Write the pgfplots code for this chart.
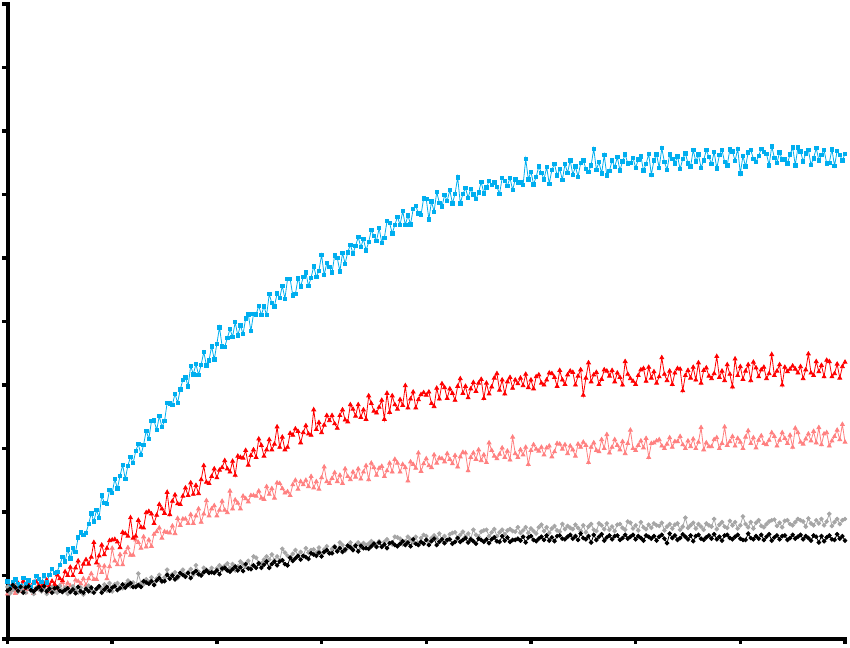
\documentclass[border=0pt]{standalone}
\usepackage{pgfplots}
\usepackage{pgfplotstable}
\pgfplotsset{compat=1.18}

\definecolor{cblue}{RGB}{0,174,239}
\definecolor{cred}{RGB}{255,0,0}
\definecolor{cpink}{RGB}{255,128,128}
\definecolor{cgray}{RGB}{166,166,166}

% x, blue, red, pink, gray, black
\pgfplotstableread{
x b r p g k
0.000 0.91 0.90 0.71 0.82 0.76
0.025 0.81 0.81 0.82 0.72 0.79
0.050 0.89 0.79 0.76 0.77 0.85
0.075 0.94 0.84 0.72 0.84 0.81
0.100 0.86 0.88 0.79 0.74 0.76
0.125 0.83 0.82 0.75 0.78 0.82
0.150 0.96 0.91 0.81 0.82 0.73
0.175 0.86 0.80 0.73 0.73 0.81
0.200 0.92 0.86 0.78 0.80 0.83
0.225 0.82 0.78 0.83 0.76 0.77
0.250 0.89 0.89 0.72 0.71 0.75
0.275 0.99 0.90 0.78 0.81 0.79
0.300 0.95 0.85 0.82 0.78 0.82
0.325 0.90 0.83 0.76 0.75 0.77
0.350 1.00 0.87 0.81 0.80 0.83
0.375 0.89 0.93 0.84 0.71 0.75
0.400 1.01 0.84 0.75 0.78 0.79
0.425 1.10 0.91 0.80 0.82 0.73
0.450 1.04 0.86 0.86 0.75 0.80
0.475 1.06 1.01 0.79 0.73 0.81
0.500 1.17 0.95 0.84 0.84 0.76
0.525 1.29 0.92 0.89 0.76 0.74
0.550 1.22 1.06 0.79 0.81 0.77
0.575 1.41 1.00 0.88 0.71 0.80
0.600 1.27 1.13 0.84 0.76 0.74
0.625 1.43 1.00 0.78 0.83 0.78
0.650 1.37 1.12 0.93 0.78 0.72
0.675 1.60 1.23 0.91 0.73 0.82
0.700 1.68 1.05 0.87 0.81 0.75
0.725 1.64 1.18 0.95 0.70 0.73
0.750 1.67 1.25 0.85 0.80 0.79
0.775 1.81 1.18 0.95 0.84 0.75
0.800 1.98 1.29 1.03 0.75 0.81
0.825 1.85 1.52 0.94 0.73 0.73
0.850 2.03 1.20 0.94 0.79 0.79
0.875 1.91 1.31 1.16 0.83 0.83
0.900 2.26 1.48 1.05 0.78 0.73
0.925 2.14 1.33 1.15 0.86 0.78
0.950 2.13 1.43 0.95 0.76 0.82
0.975 2.35 1.55 1.14 0.88 0.76
1.000 2.30 1.56 1.43 0.75 0.81
1.025 2.52 1.57 1.23 0.86 0.83
1.050 2.37 1.53 1.17 0.88 0.77
1.075 2.57 1.44 1.33 0.82 0.80
1.100 2.74 1.68 1.17 0.80 0.86
1.125 2.52 1.66 1.36 0.86 0.81
1.150 2.73 1.62 1.44 0.92 0.85
1.175 2.87 1.91 1.32 0.83 0.88
1.200 2.77 1.59 1.32 0.89 0.82
1.225 2.96 1.62 1.56 0.82 0.82
1.250 3.07 1.87 1.52 1.03 0.85
1.275 2.90 1.76 1.43 0.88 0.82
1.300 3.06 1.75 1.61 0.86 0.91
1.325 3.28 1.99 1.45 0.94 0.89
1.350 3.15 2.01 1.56 0.90 0.87
1.375 3.43 1.97 1.46 0.97 0.91
1.400 3.44 1.82 1.65 0.88 0.85
1.425 3.29 1.95 1.69 0.95 0.92
1.450 3.51 2.12 1.75 1.01 0.96
1.475 3.34 2.05 1.59 0.90 0.91
1.500 3.43 1.98 1.69 0.97 0.91
1.525 3.72 2.31 1.68 1.09 1.01
1.550 3.71 1.96 1.67 0.95 0.95
1.575 3.69 2.17 1.78 1.02 1.00
1.600 3.86 2.27 1.66 1.05 0.94
1.625 3.72 2.13 1.90 0.96 0.98
1.650 3.93 2.12 1.79 1.01 1.04
1.675 4.08 2.25 1.89 1.09 1.01
1.700 4.12 2.38 1.89 1.01 0.98
1.725 3.98 2.26 1.82 1.05 1.04
1.750 4.30 2.46 1.96 1.10 0.96
1.775 4.17 2.28 1.82 1.01 1.04
1.800 4.33 2.42 1.94 1.16 1.07
1.825 4.16 2.29 2.05 1.06 1.02
1.850 4.32 2.51 1.84 1.01 1.00
1.875 4.52 2.73 1.97 1.12 1.05
1.900 4.31 2.47 2.18 1.09 1.08
1.925 4.39 2.45 1.94 1.07 1.04
1.950 4.61 2.56 2.05 1.12 1.05
1.975 4.40 2.68 2.10 1.04 1.04
2.000 4.65 2.54 1.94 1.11 1.08
2.025 4.91 2.66 2.03 1.16 1.02
2.050 4.61 2.70 2.17 1.09 1.11
2.075 4.60 2.81 2.03 1.15 1.12
2.100 4.74 2.68 1.99 1.19 1.08
2.125 4.88 2.63 2.33 1.12 1.06
2.150 4.76 2.80 2.05 1.18 1.10
2.175 4.99 2.58 2.19 1.08 1.14
2.200 4.78 2.88 2.14 1.14 1.08
2.225 4.94 2.86 2.05 1.22 1.13
2.250 4.80 2.85 2.25 1.18 1.07
2.275 5.05 2.97 2.21 1.14 1.18
2.300 5.11 2.74 2.16 1.23 1.11
2.325 4.85 2.89 2.26 1.13 1.10
2.350 5.12 2.98 2.26 1.30 1.16
2.375 5.11 2.86 2.25 1.28 1.12
2.400 5.25 3.15 2.33 1.20 1.19
2.425 5.10 3.05 2.22 1.19 1.12
2.450 5.24 2.88 2.20 1.25 1.17
2.475 5.10 2.98 2.40 1.30 1.22
2.500 5.43 3.14 2.28 1.25 1.12
2.525 5.29 2.98 2.37 1.33 1.18
2.550 5.24 3.07 2.22 1.24 1.22
2.575 5.44 3.34 2.46 1.30 1.16
2.600 5.37 3.02 2.45 1.24 1.22
2.625 5.56 3.18 2.37 1.42 1.24
2.650 5.36 2.98 2.30 1.36 1.18
2.675 5.67 3.02 2.32 1.31 1.16
2.700 5.67 3.24 2.26 1.29 1.28
2.725 5.41 3.21 2.43 1.34 1.23
2.750 5.43 3.31 2.50 1.40 1.27
2.775 5.68 3.27 2.36 1.31 1.31
2.800 5.55 3.09 2.48 1.37 1.25
2.825 5.70 3.25 2.43 1.30 1.31
2.850 5.77 3.36 2.50 1.43 1.29
2.875 5.56 3.23 2.40 1.36 1.26
2.900 5.69 3.21 2.56 1.40 1.35
2.925 5.87 3.61 2.38 1.41 1.33
2.950 5.70 3.30 2.48 1.36 1.31
2.975 5.80 3.41 2.36 1.44 1.36
3.000 6.05 3.25 2.54 1.34 1.30
3.025 5.73 3.37 2.71 1.41 1.37
3.050 5.92 3.52 2.48 1.46 1.40
3.075 5.86 3.44 2.45 1.35 1.35
3.100 5.77 3.52 2.53 1.42 1.35
3.125 6.04 3.39 2.62 1.46 1.45
3.150 6.00 3.32 2.48 1.39 1.38
3.175 5.79 3.52 2.58 1.52 1.43
3.200 6.08 3.61 2.45 1.48 1.37
3.225 5.91 3.45 2.68 1.39 1.41
3.250 6.09 3.42 2.56 1.44 1.47
3.275 6.21 3.69 2.51 1.52 1.44
3.300 6.07 3.62 2.63 1.43 1.40
3.325 6.19 3.51 2.55 1.48 1.47
3.350 6.33 3.69 2.68 1.52 1.38
3.375 6.17 3.49 2.52 1.44 1.47
3.400 6.30 3.61 2.63 1.51 1.43
3.425 6.12 3.46 2.73 1.48 1.43
3.450 6.25 3.83 2.51 1.50 1.42
3.475 6.44 3.71 2.77 1.54 1.46
3.500 6.35 3.59 2.70 1.51 1.50
3.525 6.27 3.56 2.58 1.49 1.45
3.550 6.47 3.65 2.69 1.54 1.52
3.575 6.24 3.76 2.72 1.46 1.45
3.600 6.32 3.46 2.56 1.53 1.49
3.625 6.58 3.87 2.65 1.57 1.43
3.650 6.55 3.57 2.77 1.51 1.51
3.675 6.39 3.83 2.63 1.49 1.52
3.700 6.52 3.69 2.83 1.61 1.48
3.725 6.65 3.62 2.77 1.60 1.46
3.750 6.52 3.77 2.63 1.58 1.50
3.775 6.74 3.68 2.75 1.49 1.54
3.800 6.52 3.99 2.70 1.54 1.48
3.825 6.67 3.64 2.49 1.61 1.52
3.850 6.53 3.78 2.79 1.57 1.46
3.875 6.77 3.89 2.75 1.52 1.57
3.900 6.82 3.64 2.69 1.61 1.50
3.925 6.70 3.77 2.93 1.50 1.48
3.950 6.68 3.85 2.64 1.59 1.53
3.975 6.94 3.88 2.76 1.64 1.50
4.000 6.93 3.84 2.84 1.62 1.56
4.025 6.61 3.89 2.73 1.53 1.48
4.050 6.89 3.71 2.70 1.59 1.54
4.075 6.73 3.66 2.90 1.63 1.58
4.100 7.04 3.95 2.77 1.58 1.48
4.125 6.87 3.78 2.85 1.66 1.53
4.150 6.81 4.02 2.84 1.56 1.57
4.175 6.99 3.96 2.79 1.62 1.51
4.200 6.90 3.79 2.92 1.55 1.56
4.225 7.07 3.94 2.83 1.65 1.57
4.250 6.86 3.87 2.76 1.67 1.50
4.275 7.01 3.76 2.89 1.68 1.53
4.300 7.27 3.98 2.71 1.58 1.59
4.325 6.86 4.10 2.87 1.64 1.53
4.350 7.01 3.87 2.94 1.69 1.56
4.375 7.10 3.98 2.93 1.61 1.59
4.400 6.95 3.80 2.65 1.66 1.52
4.425 7.09 3.94 2.86 1.58 1.57
4.450 7.00 4.04 2.93 1.72 1.54
4.475 6.93 3.90 2.83 1.64 1.50
4.500 7.03 4.03 2.98 1.61 1.58
4.525 7.20 4.09 2.81 1.69 1.56
4.550 7.02 3.79 2.90 1.71 1.53
4.575 7.11 4.03 2.78 1.72 1.57
4.600 7.21 3.86 3.09 1.62 1.51
4.625 7.15 3.97 2.97 1.68 1.57
4.650 7.19 4.11 2.88 1.73 1.60
4.675 7.12 4.18 2.84 1.62 1.54
4.700 7.01 3.92 2.91 1.68 1.53
4.725 7.26 4.08 3.01 1.72 1.62
4.750 7.21 3.86 2.86 1.65 1.55
4.775 7.14 4.05 2.96 1.71 1.60
4.800 7.26 4.12 2.82 1.73 1.53
4.825 7.07 3.95 3.18 1.70 1.56
4.850 7.24 4.08 2.92 1.69 1.56
4.875 7.19 4.02 2.86 1.76 1.58
4.900 7.19 4.11 2.98 1.67 1.55
4.925 7.15 3.99 2.90 1.71 1.61
4.950 7.56 4.17 3.02 1.76 1.52
4.975 7.24 3.96 2.75 1.67 1.60
5.000 7.36 4.08 2.97 1.74 1.62
5.025 7.16 3.94 3.06 1.70 1.56
5.050 7.28 4.13 2.99 1.66 1.54
5.075 7.44 4.16 2.96 1.76 1.58
5.100 7.34 4.03 3.02 1.80 1.61
5.125 7.24 4.00 2.90 1.70 1.56
5.150 7.43 4.08 3.01 1.76 1.63
5.175 7.17 4.19 3.04 1.67 1.55
5.200 7.39 4.18 2.87 1.74 1.60
5.225 7.48 4.12 2.95 1.78 1.54
5.250 7.30 3.98 3.08 1.71 1.62
5.275 7.40 4.23 3.07 1.69 1.63
5.300 7.23 4.08 2.99 1.81 1.58
5.325 7.48 4.01 3.06 1.73 1.57
5.350 7.34 4.16 2.92 1.78 1.61
5.375 7.54 4.22 3.04 1.75 1.64
5.400 7.31 4.20 2.98 1.73 1.58
5.425 7.44 4.00 2.88 1.80 1.62
5.450 7.28 4.14 3.07 1.75 1.56
5.475 7.50 4.24 3.02 1.70 1.66
5.500 7.54 3.84 3.10 1.79 1.59
5.525 7.40 4.11 3.05 1.68 1.57
5.550 7.36 4.35 2.78 1.77 1.62
5.575 7.46 4.05 3.02 1.81 1.52
5.600 7.72 4.16 3.09 1.72 1.64
5.625 7.39 4.20 2.97 1.70 1.56
5.650 7.51 4.01 2.95 1.82 1.61
5.675 7.33 4.09 3.14 1.79 1.65
5.700 7.62 4.24 3.00 1.73 1.55
5.725 7.30 4.22 3.22 1.82 1.60
5.750 7.37 4.14 2.93 1.72 1.63
5.775 7.54 4.23 3.02 1.77 1.57
5.800 7.43 4.05 3.14 1.70 1.62
5.825 7.59 4.19 3.05 1.80 1.63
5.850 7.38 4.12 2.98 1.81 1.56
5.875 7.52 4.00 3.11 1.75 1.59
5.900 7.63 4.37 2.92 1.72 1.64
5.925 7.49 4.17 3.08 1.85 1.58
5.950 7.50 4.10 3.29 1.83 1.61
5.975 7.58 4.06 3.00 1.74 1.64
6.000 7.42 4.01 2.97 1.79 1.57
6.025 7.55 4.15 3.05 1.71 1.62
6.050 7.60 4.24 3.12 1.84 1.59
6.075 7.38 4.26 3.01 1.76 1.55
6.100 7.48 4.06 3.16 1.73 1.63
6.125 7.64 4.28 2.86 1.80 1.61
6.150 7.31 4.11 3.08 1.75 1.58
6.175 7.54 4.21 3.09 1.82 1.62
6.200 7.63 4.03 3.12 1.79 1.55
6.225 7.42 4.13 3.14 1.78 1.61
6.250 7.73 4.43 3.04 1.83 1.64
6.275 7.51 4.17 3.00 1.71 1.58
6.300 7.39 4.07 3.07 1.77 1.51
6.325 7.63 4.22 3.17 1.81 1.66
6.350 7.56 4.01 3.02 1.74 1.59
6.375 7.49 4.19 3.11 1.80 1.63
6.400 7.60 4.26 3.11 1.82 1.56
6.425 7.40 4.25 3.19 1.72 1.59
6.450 7.56 3.91 3.06 1.77 1.65
6.475 7.65 4.15 3.00 1.91 1.61
6.500 7.49 4.23 3.12 1.75 1.57
6.525 7.44 4.11 3.03 1.79 1.63
6.550 7.70 4.28 3.15 1.83 1.54
6.575 7.52 4.08 3.00 1.74 1.62
6.600 7.63 4.35 3.10 1.81 1.64
6.625 7.42 4.03 3.33 1.77 1.58
6.650 7.54 4.23 2.98 1.72 1.56
6.675 7.70 4.27 3.09 1.82 1.60
6.700 7.59 4.14 3.03 1.79 1.63
6.725 7.48 4.10 3.03 1.77 1.58
6.750 7.67 4.18 3.14 1.89 1.65
6.775 7.41 4.45 3.17 1.73 1.57
6.800 7.62 4.12 3.00 1.80 1.61
6.825 7.70 4.22 3.08 1.84 1.55
6.850 7.51 4.07 3.34 1.77 1.63
6.875 7.46 4.32 3.05 1.75 1.64
6.900 7.71 4.17 3.11 1.86 1.59
6.925 7.68 3.97 3.19 1.79 1.57
6.950 7.53 4.41 3.04 1.84 1.61
6.975 7.72 4.15 3.16 1.74 1.64
7.000 7.33 4.29 3.10 1.79 1.58
7.025 7.61 4.09 3.00 1.93 1.56
7.050 7.44 4.22 3.18 1.81 1.56
7.075 7.66 4.32 3.28 1.76 1.66
7.100 7.70 4.07 3.08 1.84 1.59
7.125 7.56 4.36 3.17 1.74 1.57
7.150 7.51 4.27 3.01 1.83 1.62
7.175 7.61 4.13 3.13 1.87 1.58
7.200 7.72 4.24 3.20 1.78 1.64
7.225 7.67 4.28 3.08 1.76 1.56
7.250 7.64 4.10 3.06 1.81 1.61
7.275 7.46 4.18 3.13 1.85 1.65
7.300 7.76 4.48 3.25 1.87 1.55
7.325 7.58 4.15 3.19 1.88 1.60
7.350 7.50 4.22 3.04 1.78 1.63
7.375 7.66 4.32 3.13 1.83 1.57
7.400 7.55 4.00 3.25 1.76 1.62
7.425 7.56 4.28 3.16 1.86 1.63
7.450 7.49 4.21 3.08 1.87 1.56
7.475 7.63 4.25 3.21 1.81 1.59
7.500 7.74 4.30 3.02 1.79 1.64
7.525 7.46 4.25 3.32 1.84 1.58
7.550 7.74 4.19 3.25 1.89 1.61
7.575 7.68 4.29 3.10 1.87 1.64
7.600 7.52 4.10 3.07 1.85 1.57
7.625 7.65 4.24 3.15 1.77 1.62
7.650 7.70 4.49 3.23 1.90 1.59
7.675 7.47 4.19 3.12 1.82 1.55
7.700 7.57 4.15 3.27 1.79 1.63
7.725 7.73 4.37 3.09 1.87 1.61
7.750 7.54 4.21 3.33 1.82 1.52
7.775 7.62 4.31 3.06 1.89 1.62
7.800 7.70 4.13 3.23 1.79 1.54
7.825 7.49 4.39 3.25 1.85 1.60
7.850 7.50 4.37 3.04 1.97 1.63
7.875 7.71 4.13 3.12 1.78 1.57
7.900 7.45 4.18 3.19 1.84 1.56
7.925 7.69 4.33 3.29 1.89 1.65
7.950 7.62 4.11 3.14 1.81 1.58
7.975 7.54 4.29 3.38 1.87 1.62
8.000 7.64 4.36 3.10 1.89 1.55
}\curves

\begin{document}
\begin{tikzpicture}
\path[use as bounding box] (0,0) rectangle (850pt,647pt);
\begin{axis}[
    at={(7.5pt,8pt)}, anchor=south west,
    scale only axis,
    width=837.5pt, height=635pt,
    xmin=0, xmax=8, ymin=0, ymax=10,
    enlargelimits=false,
    axis lines=left,
    axis line style={-, line width=4pt, line cap=rect, black},
    xtick={0,...,8}, ytick={0,...,10},
    xticklabels={}, yticklabels={},
    tick align=outside,
    major tick length=5pt,
    tick style={line width=3.5pt, black},
    clip=false,
    every axis plot/.append style={line width=0.8pt, mark options={solid}},
]
\addplot[cpink, mark=triangle*, mark size=2.2pt] table[x=x, y=p] {\curves};
\addplot[cred, mark=triangle*, mark size=2.2pt] table[x=x, y=r] {\curves};
\addplot[cblue, mark=square*, mark size=1.7pt] table[x=x, y=b] {\curves};
\addplot[cgray, mark=*, mark size=1.9pt] table[x=x, y=g] {\curves};
\addplot[black, mark=*, mark size=1.9pt] table[x=x, y=k] {\curves};
\end{axis}
\end{tikzpicture}
\end{document}
